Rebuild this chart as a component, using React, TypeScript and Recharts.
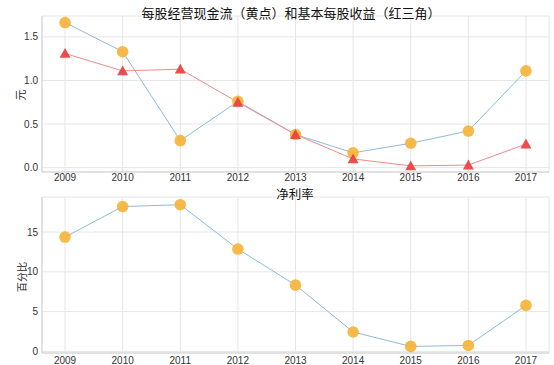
import React from "react";
import { ComposedChart, Line, XAxis, YAxis, CartesianGrid } from "recharts";

const years = [2009, 2010, 2011, 2012, 2013, 2014, 2015, 2016, 2017];
const cashFlowPerShare = [1.665, 1.33, 0.31, 0.76, 0.38, 0.17, 0.28, 0.42, 1.11];
const epsBasic = [1.31, 1.11, 1.13, 0.75, 0.38, 0.1, 0.02, 0.03, 0.27];
const netMargin = [14.37, 18.2, 18.43, 12.86, 8.34, 2.44, 0.63, 0.75, 5.78];
const topTicks = [0, 0.5, 1.0, 1.5];
const bottomTicks = [0, 5, 10, 15];

const topData = years.map((y, i) => ({ year: y, cash: cashFlowPerShare[i], eps: epsBasic[i] }));
const bottomData = years.map((y, i) => ({ year: y, margin: netMargin[i] }));

const FONT = '"Liberation Sans", "Noto Sans CJK SC", sans-serif';
const CJK = '"Noto Sans CJK SC", sans-serif';
const GRID = "#e6e6e6";
const BORDER = "#cfcfcf";
const ORANGE = "#f5b43c";
const RED = "#e8403f";
const tickStyle = { fontSize: 10, fill: "#333", fontFamily: FONT };

const CircleDot = (props: any) => {
  const { cx, cy } = props;
  if (cx == null || cy == null) return null;
  return <circle key={props.index} cx={cx} cy={cy} r={5.8} fill={ORANGE} fillOpacity={0.92} stroke="none" />;
};

const TriangleDot = (props: any) => {
  const { cx, cy } = props;
  if (cx == null || cy == null) return null;
  const s = 5.5;
  const pts = `${cx},${cy - s} ${cx - s},${cy + s * 0.8} ${cx + s},${cy + s * 0.8}`;
  return <polygon key={props.index} points={pts} fill={RED} fillOpacity={0.92} stroke="none" />;
};

const xProps = {
  type: "number" as const,
  dataKey: "year",
  domain: [2008.6, 2017.4],
  ticks: years,
  allowDataOverflow: true,
  tickLine: false,
  tickSize: 0,
  axisLine: { stroke: BORDER },
  tick: tickStyle,
  interval: 0 as const,
};

export default function App() {
  return (
    <div style={{ position: "absolute", left: 0, top: 0, width: 554, height: 365, background: "#fff", overflow: "hidden" }}>
      <div style={{ position: "absolute", left: 0, top: 0 }}>
        <ComposedChart width={554} height={190} data={topData} margin={{ top: 16, right: 5, left: 12, bottom: 0 }}>
          <CartesianGrid stroke={GRID} strokeWidth={1} />
          <XAxis {...xProps} tickMargin={2} height={18} />
          <XAxis xAxisId="t" orientation="top" type="number" dataKey="year" domain={[2008.6, 2017.4]} tick={false} tickLine={false} height={0} axisLine={{ stroke: BORDER }} />
          <YAxis
            type="number"
            domain={[-0.05, 1.74]}
            ticks={topTicks}
            allowDataOverflow
            tickFormatter={(v: number) => v.toFixed(1)}
            tickLine={false}
            tickSize={0}
            tickMargin={4}
            axisLine={{ stroke: BORDER }}
            tick={tickStyle}
            width={30}
          />
          <YAxis yAxisId="r" orientation="right" domain={[-0.05, 1.74]} tick={false} tickLine={false} width={0} axisLine={{ stroke: BORDER }} />
          <Line dataKey="cash" stroke="#8dbbd9" strokeWidth={1} dot={CircleDot} activeDot={false} isAnimationActive={false} />
          <Line dataKey="eps" stroke="#f08a8a" strokeWidth={1} dot={TriangleDot} activeDot={false} isAnimationActive={false} />
        </ComposedChart>
      </div>
      <div style={{ position: "absolute", left: 0, top: 190 }}>
        <ComposedChart width={554} height={175} data={bottomData} margin={{ top: 7, right: 5, left: 12, bottom: 0 }}>
          <CartesianGrid stroke={GRID} strokeWidth={1} />
          <XAxis {...xProps} tickMargin={4} height={12} />
          <XAxis xAxisId="t" orientation="top" type="number" dataKey="year" domain={[2008.6, 2017.4]} tick={false} tickLine={false} height={0} axisLine={{ stroke: BORDER }} />
          <YAxis
            type="number"
            domain={[-0.2, 19.4]}
            ticks={bottomTicks}
            allowDataOverflow
            tickLine={false}
            tickSize={0}
            tickMargin={4}
            axisLine={{ stroke: BORDER }}
            tick={tickStyle}
            width={30}
          />
          <YAxis yAxisId="r" orientation="right" domain={[-0.2, 19.4]} tick={false} tickLine={false} width={0} axisLine={{ stroke: BORDER }} />
          <Line dataKey="margin" stroke="#8dbbd9" strokeWidth={1} dot={CircleDot} activeDot={false} isAnimationActive={false} />
        </ComposedChart>
      </div>
      <svg width={554} height={365} style={{ position: "absolute", left: 0, top: 0, pointerEvents: "none" }}>
        <text x={20} y={95} transform="rotate(-90 20 95)" textAnchor="middle" dominantBaseline="central" fontSize={11} fill="#222" fontFamily={CJK}>元</text>
        <text x={21} y={277} transform="rotate(-90 21 277)" textAnchor="middle" dominantBaseline="central" fontSize={10} fill="#222" fontFamily={CJK}>百分比</text>
        <text x={291} y={12} textAnchor="middle" dominantBaseline="central" fontSize={13} fill="#111" fontFamily={CJK}>每股经营现金流（黄点）和基本每股收益（红三角）</text>
        <text x={295} y={193} textAnchor="middle" dominantBaseline="central" fontSize={12.5} fill="#111" fontFamily={CJK}>净利率</text>
      </svg>
    </div>
  );
}
